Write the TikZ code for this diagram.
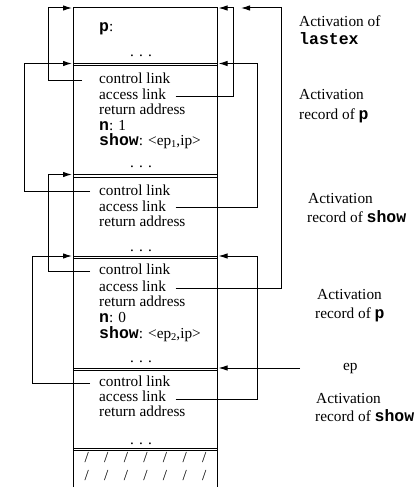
\documentclass[tikz,border=0pt]{standalone}
\usepackage{fontspec}
\setmainfont{Liberation Serif}
\newfontfamily\monofam{Liberation Mono}
\usetikzlibrary{arrows.meta}
\newcommand{\kw}[1]{{\fontsize{16.5}{18}\monofam\bfseries #1}}
\newcommand{\lowsub}[1]{\raisebox{-0.35ex}{\fontsize{10.5}{12}\selectfont #1}}
\begin{document}
\begin{tikzpicture}[x=1pt,y=-1pt,
  every node/.style={inner sep=0pt, font=\fontsize{15.3}{17}\selectfont},
  txt/.style={anchor=base west},
  dots/.style={anchor=base},
  link/.style={line width=1pt},
  arr/.style={-{Latex[length=9pt,width=5.5pt]}},
  frameline/.style={line width=1pt}]
\useasboundingbox (0,0) rectangle (420,495);
% stack outline
\draw[frameline] (73,487) -- (73,8) -- (217,8) -- (217,487);
\foreach \yy in {63.5,174.5,256,368,448}{
  \draw[frameline] (73,\yy) -- (217,\yy);
  \draw[frameline] (73,\yy+2.5) -- (217,\yy+2.5);
}
% frame 0: lastex
\node[txt] (p0) at (99,32) {\kw{p}:};
\node[dots] (d0) at (141,56.5) {. . .};
% frame 1: p
\node[txt] (cl1) at (99,83) {control link};
\node[txt] (al1) at (99,99) {access link};
\node[txt] (ra1) at (99,114.5) {return address};
\node[txt] (n1) at (99,130) {\kw{n}: 1};
\node[txt] (sh1) at (99,145.5) {\kw{show}: <ep\lowsub{1},ip>};
\node[dots] (d1) at (141,167.5) {. . .};
% frame 2: show
\node[txt] (cl2) at (99,195) {control link};
\node[txt] (al2) at (99,211) {access link};
\node[txt] (ra2) at (99,226.5) {return address};
\node[dots] (d2) at (141,251) {. . .};
% frame 3: p
\node[txt] (cl3) at (99,274.5) {control link};
\node[txt] (al3) at (99,291) {access link};
\node[txt] (ra3) at (99,306.5) {return address};
\node[txt] (n3) at (99,322.5) {\kw{n}: 0};
\node[txt] (sh3) at (99,338.5) {\kw{show}: <ep\lowsub{2},ip>};
\node[dots] (d3) at (141,362.5) {. . .};
% frame 4: show
\node[txt] (cl4) at (99,386) {control link};
\node[txt] (al4) at (99,401) {access link};
\node[txt] (ra4) at (99,416.5) {return address};
\node[dots] (d4) at (141,444) {. . .};
% hatch
\foreach \i in {0,...,6}{
  \node (ha\i) at (86.7+19.6*\i,458) {/};
  \node (hb\i) at (86.7+19.6*\i,476) {/};
}
% right labels
\node[txt] (la0a) at (299,26.5) {Activation of};
\node[txt] (la0b) at (299,44.5) {\kw{lastex}};
\node[txt] (la1a) at (299,99.5) {Activation};
\node[txt] (la1b) at (299,119) {record of \kw{p}};
\node[txt] (la2a) at (308,203.5) {Activation};
\node[txt] (la2b) at (307,222.3) {record of \kw{show}};
\node[txt] (la3a) at (317,299) {Activation};
\node[txt] (la3b) at (315,318) {record of \kw{p}};
\node[txt] (ep) at (343,370.5) {ep};
\node[txt] (la4a) at (316,403.3) {Activation};
\node[txt] (la4b) at (315,421.7) {record of \kw{show}};
% link end points
\coordinate (t0L) at (72,8);
\coordinate (t0R) at (218.5,8);
\coordinate (t0R2) at (241,8);
\coordinate (t1L) at (72,63.5);
\coordinate (t1R) at (218.5,63.5);
\coordinate (t2L) at (72,174.5);
\coordinate (t3L) at (72,256);
\coordinate (t3R) at (218.5,256);
\coordinate (t4R) at (218.5,368);
\coordinate (c1s) at (82,80);
\coordinate (a1s) at (175.5,96);
\coordinate (c2s) at (90,191.5);
\coordinate (a2s) at (175.5,207.5);
\coordinate (c3s) at (90,271.5);
\coordinate (a3s) at (175.5,288);
\coordinate (c4s) at (90,383);
\coordinate (a4s) at (175.5,399);
\coordinate (eps) at (300,368);
% links
\draw[link,arr] (c1s) -| (48,8) -- (t0L);
\draw[link,arr] (a1s) -| (233,8) -- (t0R);
\draw[link,arr] (a3s) -| (281,8) -- (t0R2);
\draw[link,arr] (c2s) -| (24,63.5) -- (t1L);
\draw[link,arr] (a2s) -| (257,63.5) -- (t1R);
\draw[link,arr] (c3s) -| (48,174.5) -- (t2L);
\draw[link,arr] (c4s) -| (32,256) -- (t3L);
\draw[link,arr] (a4s) -| (257,256) -- (t3R);
\draw[link,arr] (eps) -- (t4R);
\end{tikzpicture}
\end{document}
